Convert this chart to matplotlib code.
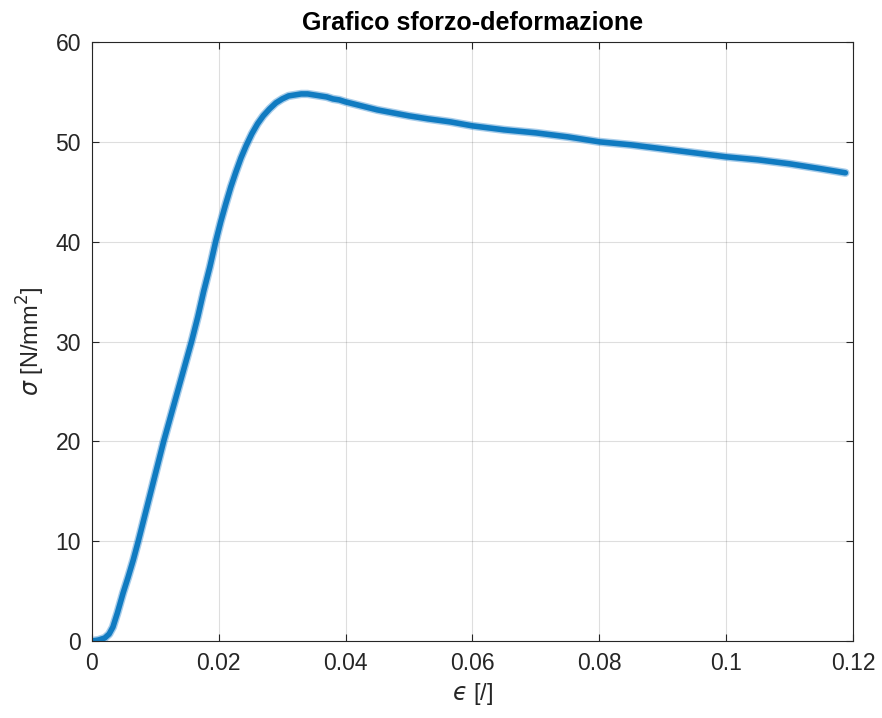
import matplotlib
matplotlib.use("Agg")
import matplotlib.pyplot as plt

plt.rcParams['font.family'] = ['Liberation Sans', 'DejaVu Sans']
plt.rcParams['mathtext.fontset'] = 'dejavusans'

# Strain [-] and stress [N/mm^2] samples of the tensile test curve
strain = [0.0, 0.0010, 0.0020, 0.0027, 0.0033, 0.0040, 0.0049, 0.0057,
          0.0065, 0.0073, 0.0083, 0.0093, 0.0103, 0.0113, 0.0124, 0.0135,
          0.0146, 0.0157, 0.0167, 0.0176, 0.0186, 0.0195, 0.0203, 0.0211,
          0.0219, 0.0227, 0.0235, 0.0243, 0.0252, 0.0261, 0.0270, 0.0280,
          0.0290, 0.0300, 0.0310, 0.0320, 0.0330, 0.0340, 0.0350, 0.0360,
          0.0370, 0.0380, 0.0390, 0.0400, 0.0425, 0.0450, 0.0475, 0.0500,
          0.0530, 0.0565, 0.0600, 0.0650, 0.0700, 0.0750, 0.0800, 0.0850,
          0.0900, 0.0950, 0.1000, 0.1050, 0.1100, 0.1150, 0.1188]
stress = [0.0, 0.1, 0.3, 0.7, 1.4, 2.8, 4.8, 6.4,
          8.1, 10.0, 12.5, 15.0, 17.5, 20.0, 22.5, 25.0,
          27.5, 30.0, 32.5, 35.0, 37.5, 40.0, 42.0, 43.8,
          45.5, 47.0, 48.4, 49.6, 50.8, 51.8, 52.6, 53.3,
          53.9, 54.3, 54.6, 54.7, 54.8, 54.8, 54.7, 54.6,
          54.5, 54.3, 54.2, 54.0, 53.6, 53.2, 52.9, 52.6,
          52.3, 52.0, 51.6, 51.2, 50.9, 50.5, 50.0, 49.7,
          49.3, 48.9, 48.5, 48.2, 47.8, 47.3, 46.9]

fig = plt.figure(figsize=(8.82, 7.18), dpi=100)
ax = fig.add_axes([0.1043, 0.1072, 0.8628, 0.8343])

# soft halo plus solid core for the dense measurement trace
ax.plot(strain, stress, color='#3d8fd0', lw=6.0, alpha=0.45,
        solid_capstyle='round', solid_joinstyle='round')
ax.plot(strain, stress, color='#0072BD', lw=4.0, alpha=0.9,
        solid_capstyle='round', solid_joinstyle='round')

ax.set_xlim(0, 0.12)
ax.set_ylim(0, 60)
ax.set_xticks([0, 0.02, 0.04, 0.06, 0.08, 0.1, 0.12])
ax.set_xticklabels(['0', '0.02', '0.04', '0.06', '0.08', '0.1', '0.12'])
ax.set_yticks([0, 10, 20, 30, 40, 50, 60])

ax.grid(True, color='#000000', alpha=0.13, lw=0.8)
ax.set_axisbelow(True)
for s in ax.spines.values():
    s.set_color('#262626')
    s.set_linewidth(0.8)
ax.tick_params(axis='both', direction='in', length=5, width=0.8, colors='#262626',
               labelsize=16.5, top=True, right=True)
ax.tick_params(axis='x', pad=8)
ax.tick_params(axis='y', pad=8)

ax.set_title('Grafico sforzo-deformazione', fontsize=18, fontweight='bold', pad=9)
ax.set_xlabel('$\u03f5$ [/]', fontsize=17, color='#262626', labelpad=4)
ax.set_ylabel(r'$\sigma$ [N/mm$^2$]', fontsize=17, color='#262626', labelpad=6)

fig.savefig('out.png', dpi=100, facecolor='white')
